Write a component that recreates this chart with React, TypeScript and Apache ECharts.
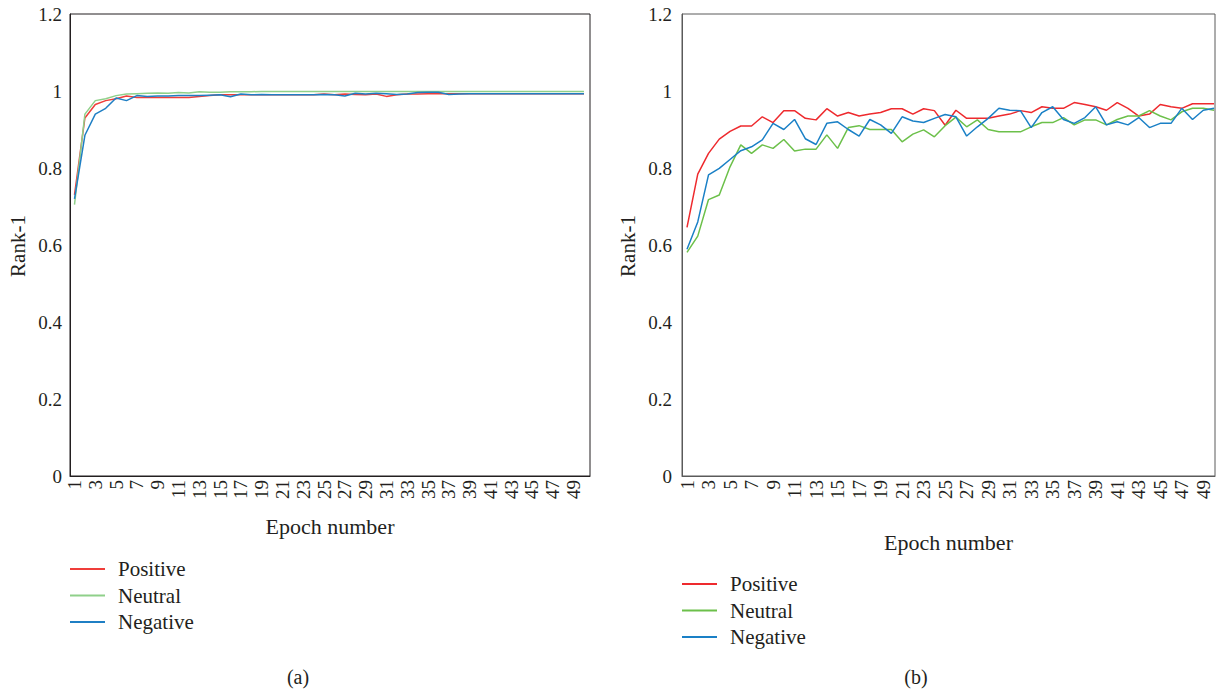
import React, { useEffect, useRef } from 'react';
import * as echarts from 'echarts';

const epochs = [1, 2, 3, 4, 5, 6, 7, 8, 9, 10, 11, 12, 13, 14, 15, 16, 17, 18, 19, 20, 21, 22, 23, 24, 25, 26, 27, 28, 29, 30, 31, 32, 33, 34, 35, 36, 37, 38, 39, 40, 41, 42, 43, 44, 45, 46, 47, 48, 49, 50];
const xTickLabels = [1, 3, 5, 7, 9, 11, 13, 15, 17, 19, 21, 23, 25, 27, 29, 31, 33, 35, 37, 39, 41, 43, 45, 47, 49];
const yTicks = [0, 0.2, 0.4, 0.6, 0.8, 1, 1.2];
const seriesNames = ['Positive', 'Neutral', 'Negative'];
const xTitle = 'Epoch number';
const yTitle = 'Rank-1';

// Chart (a)
const aPositive = [0.73, 0.93, 0.965, 0.975, 0.98, 0.987, 0.983, 0.983, 0.983, 0.983, 0.983, 0.983, 0.986, 0.988, 0.99, 0.99, 0.99, 0.99, 0.99, 0.99, 0.99, 0.99, 0.99, 0.99, 0.992, 0.99, 0.992, 0.991, 0.99, 0.992, 0.986, 0.99, 0.992, 0.992, 0.993, 0.993, 0.993, 0.993, 0.993, 0.993, 0.993, 0.993, 0.993, 0.993, 0.993, 0.993, 0.993, 0.993, 0.993, 0.993];
const aNeutral = [0.705, 0.94, 0.975, 0.98, 0.988, 0.992, 0.993, 0.994, 0.995, 0.994, 0.996, 0.995, 0.998, 0.997, 0.997, 0.998, 0.998, 0.998, 0.999, 0.999, 0.999, 0.999, 0.999, 0.999, 0.999, 0.999, 0.999, 0.999, 0.999, 0.999, 0.999, 0.999, 0.999, 0.999, 0.999, 0.999, 0.999, 0.999, 0.999, 0.999, 0.999, 0.999, 0.999, 0.999, 0.999, 0.999, 0.999, 0.999, 0.999, 0.999];
const aNegative = [0.72, 0.885, 0.94, 0.955, 0.982, 0.975, 0.988, 0.986, 0.987, 0.987, 0.988, 0.988, 0.988, 0.989, 0.99, 0.985, 0.992, 0.99, 0.991, 0.99, 0.99, 0.99, 0.99, 0.99, 0.991, 0.99, 0.987, 0.994, 0.992, 0.994, 0.993, 0.991, 0.992, 0.996, 0.997, 0.997, 0.991, 0.992, 0.993, 0.993, 0.993, 0.993, 0.993, 0.993, 0.993, 0.993, 0.993, 0.993, 0.993, 0.993];

// Chart (b)
const bPositive = [0.646, 0.784, 0.838, 0.875, 0.895, 0.909, 0.909, 0.933, 0.918, 0.949, 0.949, 0.929, 0.925, 0.954, 0.935, 0.944, 0.935, 0.94, 0.944, 0.954, 0.954, 0.94, 0.954, 0.949, 0.911, 0.95, 0.929, 0.929, 0.929, 0.935, 0.94, 0.949, 0.944, 0.959, 0.955, 0.955, 0.97, 0.965, 0.959, 0.95, 0.97, 0.955, 0.935, 0.94, 0.965, 0.959, 0.955, 0.967, 0.967, 0.967];
const bNeutral = [0.581, 0.623, 0.718, 0.73, 0.803, 0.86, 0.838, 0.86, 0.851, 0.874, 0.844, 0.849, 0.849, 0.886, 0.851, 0.905, 0.91, 0.9, 0.9, 0.9, 0.868, 0.888, 0.899, 0.881, 0.91, 0.932, 0.907, 0.925, 0.9, 0.894, 0.894, 0.894, 0.907, 0.918, 0.918, 0.931, 0.912, 0.925, 0.925, 0.912, 0.926, 0.935, 0.935, 0.949, 0.935, 0.925, 0.946, 0.955, 0.955, 0.95];
const bNegative = [0.589, 0.66, 0.782, 0.799, 0.822, 0.845, 0.855, 0.873, 0.916, 0.9, 0.926, 0.876, 0.861, 0.916, 0.92, 0.9, 0.883, 0.926, 0.912, 0.89, 0.933, 0.922, 0.918, 0.929, 0.939, 0.933, 0.883, 0.907, 0.929, 0.955, 0.95, 0.949, 0.905, 0.944, 0.959, 0.926, 0.916, 0.931, 0.959, 0.912, 0.92, 0.912, 0.931, 0.905, 0.916, 0.916, 0.955, 0.926, 0.95, 0.955];

const FONT = "'Liberation Serif', 'DejaVu Serif', serif";
const TEXT = '#231f20';
const colorsA = ['#ef3e3a', '#8fd08a', '#1f7fc4'];
const colorsB = ['#ee2a2e', '#6cc04a', '#1a80c6'];

const toPairs = (vals: number[]) => epochs.map((e, i) => [e, vals[i]]);

export default function App() {
  const ref = useRef<HTMLDivElement>(null);
  useEffect(() => {
    if (!ref.current) return;
    const chart = echarts.init(ref.current, undefined, { renderer: 'svg' });
    const mkX = (gridIndex: number, min: number, max: number, color: string) => ({
      type: 'value',
      gridIndex,
      min,
      max,
      axisLine: { show: true, lineStyle: { color, width: 1 } },
      axisTick: { show: false },
      splitLine: { show: false },
      axisLabel: {
        customValues: xTickLabels,
        rotate: 90,
        margin: 4,
        fontSize: 19,
        fontFamily: FONT,
        color: TEXT,
      },
    });
    const mkY = (gridIndex: number, color: string, margin: number) => ({
      type: 'value',
      gridIndex,
      min: 0,
      max: 1.2,
      interval: 0.2,
      axisLine: { show: true, lineStyle: { color, width: 1 } },
      axisTick: { show: false },
      splitLine: { show: false },
      axisLabel: {
        customValues: yTicks,
        margin,
        fontSize: 19,
        fontFamily: FONT,
        color: TEXT,
        formatter: (v: number) => String(Math.round(v * 10) / 10),
      },
    });
    const mkSeries = (prefix: string, idx: number, vals: number[][], colors: string[]) =>
      vals.map((v, i) => ({
        type: 'line',
        name: prefix + seriesNames[i],
        xAxisIndex: idx,
        yAxisIndex: idx,
        data: toPairs(v),
        symbol: 'none',
        showSymbol: false,
        lineStyle: { color: colors[i], width: 1.5 },
        itemStyle: { color: colors[i] },
      }));
    const mkLegend = (prefix: string, left: number, top: number) => ({
      orient: 'vertical',
      left,
      top,
      padding: 0,
      icon: 'rect',
      itemWidth: 35,
      itemHeight: 2,
      itemGap: 5.5,
      data: seriesNames.map((n) => prefix + n),
      formatter: (n: string) => n.slice(2),
      selectedMode: false,
      textStyle: { fontSize: 21, lineHeight: 21, fontFamily: FONT, color: TEXT, padding: [0, 0, 0, 8] },
    });
    const txt = (text: string, x: number, y: number, size: number, rotation = 0) => ({
      type: 'text',
      x,
      y,
      rotation,
      style: { text, fontSize: size, fontFamily: FONT, fill: TEXT, align: 'center', verticalAlign: 'middle' },
    });
    chart.setOption({
      animation: false,
      backgroundColor: '#ffffff',
      grid: [
        { left: 70, top: 14, width: 520, height: 462, show: true, borderColor: '#231f20', borderWidth: 1 },
        { left: 682, top: 14, width: 533, height: 462, show: true, borderColor: '#5a5a5a', borderWidth: 1 },
      ],
      xAxis: [mkX(0, 0.567, 50.58, '#231f20'), mkX(1, 0.535, 50.09, '#5a5a5a')],
      yAxis: [mkY(0, '#231f20', 8), mkY(1, '#5a5a5a', 10)],
      legend: [mkLegend('a-', 70, 558.5), mkLegend('b-', 682, 573.5)],
      series: [
        ...mkSeries('a-', 0, [aPositive, aNeutral, aNegative], colorsA),
        ...mkSeries('b-', 1, [bPositive, bNeutral, bNegative], colorsB),
      ],
      graphic: [
        txt(xTitle, 330, 526, 22),
        txt(xTitle, 948.5, 542, 22),
        txt(yTitle, 18, 246, 21, Math.PI / 2),
        txt(yTitle, 628, 246, 21, Math.PI / 2),
        txt('(a)', 298, 677, 20),
        txt('(b)', 916, 677, 20),
      ],
    });
    return () => chart.dispose();
  }, []);
  return <div ref={ref} style={{ position: 'fixed', left: 0, top: 0, width: 1219, height: 693 }} />;
}
